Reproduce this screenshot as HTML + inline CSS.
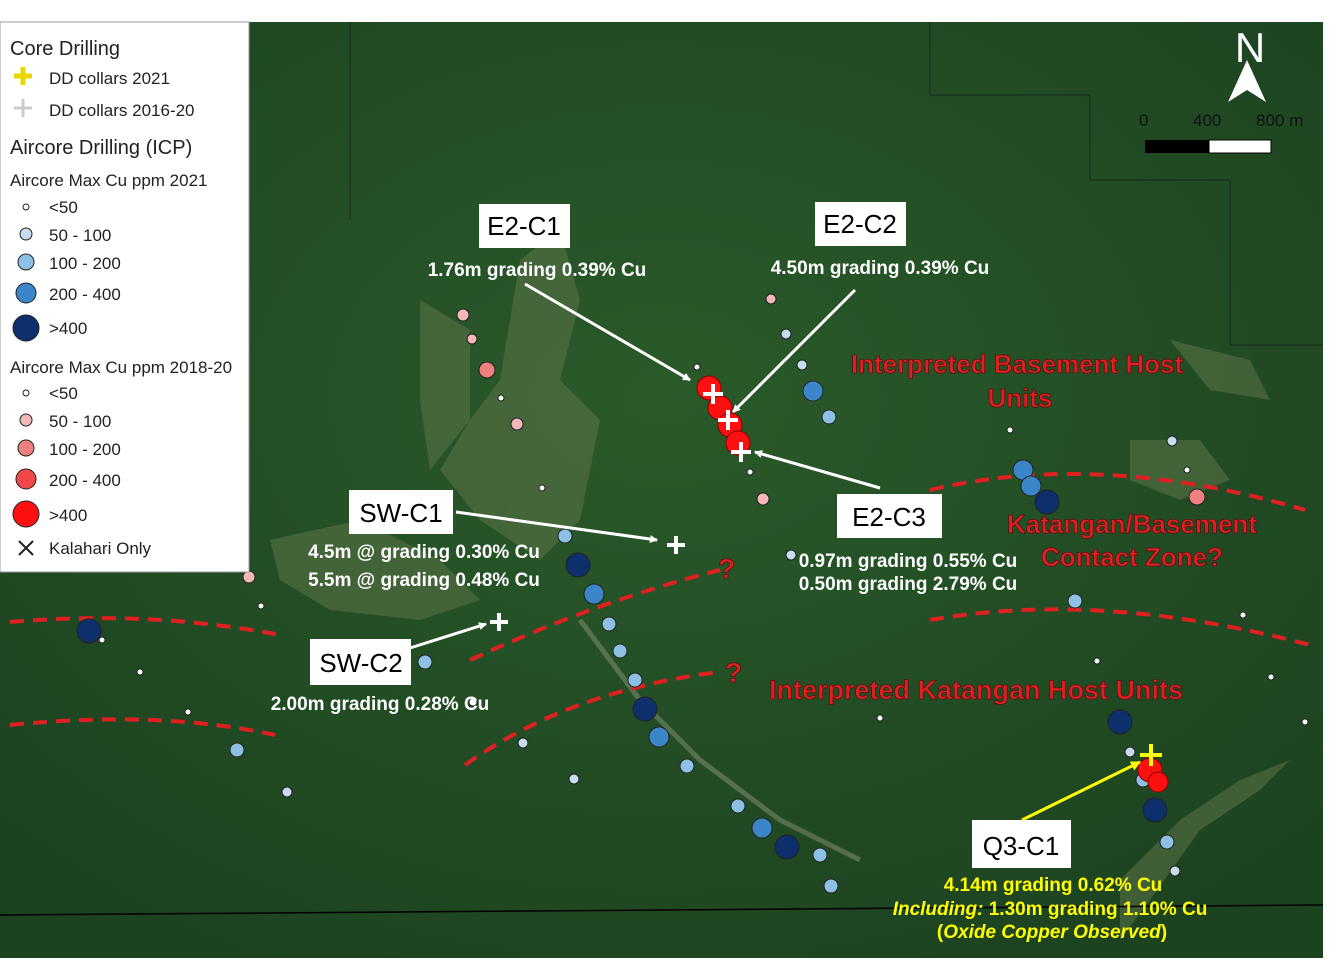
<!DOCTYPE html>
<html><head><meta charset="utf-8"><style>
body{margin:0;background:#fff;}
svg{display:block;font-family:"Liberation Sans",sans-serif;}
</style></head><body>
<svg width="1342" height="972" viewBox="0 0 1342 972" xmlns="http://www.w3.org/2000/svg">
<defs>
<marker id="aw" markerWidth="8" markerHeight="8" refX="7" refY="4" orient="auto" markerUnits="userSpaceOnUse" viewBox="0 0 8 8"><path d="M0,0 L8,4 L0,8 z" fill="#fff"/></marker>
<marker id="ay" markerWidth="10" markerHeight="10" refX="9" refY="5" orient="auto" markerUnits="userSpaceOnUse" viewBox="0 0 10 10"><path d="M0,0 L10,5 L0,10 z" fill="#ff0"/></marker>
<radialGradient id="g" cx="50%" cy="40%" r="70%"><stop offset="0" stop-color="#2a5a2a"/><stop offset="1" stop-color="#1c4220"/></radialGradient>
</defs>
<rect x="0" y="22" width="1323" height="936" fill="url(#g)"/>
<g fill="#5d7448" opacity="0.55">
<path d="M520 260 L560 230 L580 300 L560 380 L600 420 L580 520 L540 560 L480 520 L440 470 L470 420 L500 380 Z"/>
<path d="M420 300 L470 330 L470 420 L430 470 L420 400 Z"/>
<path d="M270 540 L360 520 L440 560 L480 600 L420 620 L330 610 L280 580 Z"/>
<path d="M1130 440 L1200 440 L1230 480 L1180 500 L1130 480 Z"/>
<path d="M1170 340 L1250 360 L1270 400 L1210 390 Z"/>
<path d="M1120 880 L1180 820 L1240 780 L1290 760 L1260 790 L1200 830 L1150 900 L1120 940 Z"/>
</g>
<path d="M580 620 L640 700 L700 760 L780 820 L860 860" stroke="#8a9478" stroke-width="5" fill="none" opacity="0.5"/>
<path d="M0 915 L1323 905" stroke="#000" stroke-width="1.5"/>
<path d="M350 22 L350 220 M930 22 L930 95 L1090 95 L1090 180 L1230 180 L1230 345 L1323 345" stroke="#111" stroke-width="1" fill="none" opacity="0.6"/>
<g stroke="#e02020" stroke-width="4" stroke-dasharray="14,9" fill="none">
<path d="M10 622 Q150 610 280 635"/>
<path d="M10 725 Q160 710 275 735"/>
<path d="M470 660 Q600 600 720 570"/>
<path d="M465 765 Q570 690 720 672"/>
<path d="M930 490 Q1100 450 1305 510"/>
<path d="M930 620 Q1100 590 1310 645"/>
</g>
<g fill="#e02020" font-weight="bold" stroke="#5a1010" stroke-width="0.8">
<text x="718" y="578" font-size="28">?</text>
<text x="725" y="682" font-size="28">?</text>
</g>
<g fill="#e02020" font-size="26" font-weight="bold" text-anchor="middle" stroke="#5a1010" stroke-width="0.8">
<text x="1017" y="373">Interpreted Basement Host</text>
<text x="1020" y="407">Units</text>
<text x="1132" y="533">Katangan/Basement</text>
<text x="1132" y="566">Contact Zone?</text>
<text x="976" y="699" font-size="27">Interpreted Katangan Host Units</text>
</g>
<g stroke="#222" stroke-width="1">
<g fill="#fff"><circle cx="697" cy="367" r="3"/><circle cx="501" cy="398" r="3"/><circle cx="542" cy="488" r="3"/><circle cx="750" cy="472" r="3"/><circle cx="261" cy="606" r="3"/><circle cx="102" cy="640" r="3"/><circle cx="140" cy="672" r="3"/><circle cx="188" cy="712" r="3"/><circle cx="1010" cy="430" r="3"/><circle cx="1187" cy="470" r="3"/><circle cx="1243" cy="615" r="3"/><circle cx="1097" cy="661" r="3"/><circle cx="1271" cy="677" r="3"/><circle cx="1305" cy="722" r="3"/><circle cx="880" cy="718" r="3"/><circle cx="473" cy="702" r="4"/></g>
<g fill="#c8dcf0"><circle cx="786" cy="334" r="5"/><circle cx="802" cy="365" r="5"/><circle cx="1172" cy="441" r="5"/><circle cx="791" cy="555" r="5"/><circle cx="523" cy="743" r="5"/><circle cx="574" cy="779" r="5"/><circle cx="287" cy="792" r="5"/><circle cx="1175" cy="871" r="5"/><circle cx="1130" cy="752" r="5"/></g>
<g fill="#8cc0e4"><circle cx="829" cy="417" r="7"/><circle cx="565" cy="536" r="7"/><circle cx="609" cy="624" r="7"/><circle cx="425" cy="662" r="7"/><circle cx="635" cy="680" r="7"/><circle cx="687" cy="766" r="7"/><circle cx="738" cy="806" r="7"/><circle cx="820" cy="855" r="7"/><circle cx="831" cy="886" r="7"/><circle cx="237" cy="750" r="7"/><circle cx="1075" cy="601" r="7"/><circle cx="1167" cy="842" r="7"/><circle cx="1143" cy="780" r="7"/><circle cx="620" cy="651" r="7"/></g>
<g fill="#3a86c8"><circle cx="813" cy="391" r="10"/><circle cx="594" cy="594" r="10"/><circle cx="1023" cy="470" r="10"/><circle cx="1031" cy="486" r="10"/><circle cx="659" cy="737" r="10"/><circle cx="762" cy="828" r="10"/></g>
<g fill="#0d2f6c"><circle cx="578" cy="565" r="12"/><circle cx="89" cy="631" r="12"/><circle cx="1047" cy="502" r="12"/><circle cx="645" cy="709" r="12"/><circle cx="787" cy="847" r="12"/><circle cx="1120" cy="722" r="12"/><circle cx="1155" cy="810" r="12"/></g>
<g fill="#f4b8b8"><circle cx="517" cy="424" r="6"/><circle cx="763" cy="499" r="6"/><circle cx="249" cy="577" r="6"/><circle cx="463" cy="315" r="6"/><circle cx="472" cy="339" r="5"/><circle cx="771" cy="299" r="5"/></g>
<g fill="#f08080"><circle cx="487" cy="370" r="8"/><circle cx="1197" cy="497" r="8"/></g>
<g fill="#ff1010" stroke="#800"><circle cx="709" cy="388" r="12"/><circle cx="720" cy="408" r="12"/><circle cx="730" cy="425" r="12"/><circle cx="738" cy="443" r="12"/><circle cx="1150" cy="770" r="12"/><circle cx="1158" cy="782" r="10"/></g>
</g>
<g stroke="#fff" stroke-width="4">
<path d="M713 384 v20 M703 394 h20"/><path d="M728 410 v20 M718 420 h20"/><path d="M741 442 v20 M731 452 h20"/>
<path d="M676 536 v18 M667 545 h18"/><path d="M499 613 v18 M490 622 h18"/>
</g>
<path d="M1151 744 v22 M1140 755 h22" stroke="#ff0" stroke-width="4"/>
<g stroke="#fff" stroke-width="3" fill="none" marker-end="url(#aw)">
<path d="M525 284 L690 380"/><path d="M855 290 L733 412"/><path d="M880 488 L755 452"/><path d="M456 512 L657 540"/><path d="M410 648 L486 624"/>
</g>
<path d="M1022 820 L1140 762" stroke="#ff0" stroke-width="3" marker-end="url(#ay)"/>
<g fill="#fff"><rect x="479" y="204" width="91" height="44"/><rect x="815" y="202" width="91" height="44"/><rect x="837" y="494" width="105" height="44"/><rect x="349" y="490" width="104" height="44"/><rect x="310" y="639" width="101" height="46"/><rect x="972" y="820" width="99" height="48"/></g>
<g font-size="26" fill="#000" text-anchor="middle">
<text x="524" y="235">E2-C1</text><text x="860" y="233">E2-C2</text><text x="889" y="526">E2-C3</text><text x="401" y="522">SW-C1</text><text x="361" y="672">SW-C2</text><text x="1021" y="855">Q3-C1</text>
</g>
<g fill="#fff" font-size="19" font-weight="bold" text-anchor="middle">
<text x="537" y="276">1.76m grading 0.39% Cu</text>
<text x="880" y="274">4.50m grading 0.39% Cu</text>
<text x="424" y="558">4.5m @ grading 0.30% Cu</text>
<text x="424" y="586">5.5m @ grading 0.48% Cu</text>
<text x="908" y="567">0.97m grading 0.55% Cu</text>
<text x="908" y="590">0.50m grading 2.79% Cu</text>
<text x="380" y="710">2.00m grading 0.28% Cu</text>
</g>
<g fill="#ff0" font-size="19" font-weight="bold" text-anchor="middle">
<text x="1053" y="891">4.14m grading 0.62% Cu</text>
<text x="1050" y="915"><tspan font-style="italic">Including:</tspan>   1.30m grading 1.10% Cu</text>
<text x="1052" y="938">(<tspan font-style="italic">Oxide Copper Observed</tspan>)</text>
</g>
<text x="1250" y="62" fill="#fff" font-size="42" text-anchor="middle">N</text>
<path d="M1247 60 L1228 102 L1247 90 L1266 102 Z" fill="#fff"/>
<g font-size="17" fill="#111"><text x="1139" y="126">0</text><text x="1193" y="126">400</text><text x="1256" y="126">800 m</text></g>
<rect x="1145" y="140" width="64" height="13" fill="#000"/><rect x="1209" y="140" width="62" height="13" fill="#fff" stroke="#000"/>
<rect x="0" y="22" width="249" height="550" fill="#fff" stroke="#999"/>
<g fill="#222">
<text x="10" y="55" font-size="20">Core Drilling</text>
<text x="49" y="84" font-size="17">DD collars 2021</text>
<text x="49" y="116" font-size="17">DD collars 2016-20</text>
<text x="10" y="154" font-size="20">Aircore Drilling (ICP)</text>
<text x="10" y="186" font-size="17">Aircore Max Cu ppm 2021</text>
<text x="49" y="213" font-size="17">&lt;50</text><text x="49" y="241" font-size="17">50 - 100</text><text x="49" y="269" font-size="17">100 - 200</text><text x="49" y="300" font-size="17">200 - 400</text><text x="49" y="334" font-size="17">&gt;400</text>
<text x="10" y="373" font-size="17">Aircore Max Cu ppm 2018-20</text>
<text x="49" y="399" font-size="17">&lt;50</text><text x="49" y="427" font-size="17">50 - 100</text><text x="49" y="455" font-size="17">100 - 200</text><text x="49" y="486" font-size="17">200 - 400</text><text x="49" y="521" font-size="17">&gt;400</text>
<text x="49" y="554" font-size="17">Kalahari Only</text>
</g>
<path d="M23 67 v18 M14 76 h18" stroke="#e8d800" stroke-width="5"/>
<path d="M23 99 v18 M14 108 h18" stroke="#ccc" stroke-width="3"/>
<g stroke="#222" stroke-width="1">
<circle cx="26" cy="207" r="3" fill="#fff"/><circle cx="26" cy="234" r="6" fill="#c8dcf0"/><circle cx="26" cy="262" r="8" fill="#8cc0e4"/><circle cx="26" cy="293" r="10" fill="#3a86c8"/><circle cx="26" cy="328" r="13" fill="#0d2f6c"/>
<circle cx="26" cy="393" r="3" fill="#fff"/><circle cx="26" cy="420" r="6" fill="#f4b8b8"/><circle cx="26" cy="448" r="8" fill="#f08080"/><circle cx="26" cy="479" r="10" fill="#f04848"/><circle cx="26" cy="514" r="13" fill="#ff1010"/>
</g>
<path d="M19 541 l14 14 M33 541 l-14 14" stroke="#222" stroke-width="2"/>
</svg>
</body></html>
